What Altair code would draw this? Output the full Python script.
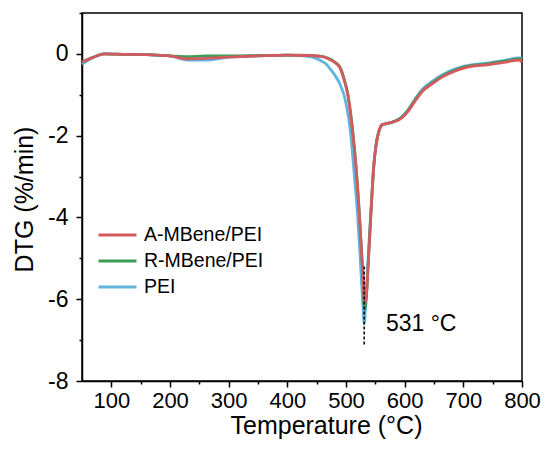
import altair as alt
import pandas as pd

# ---- data ----
temp_A = [50, 70, 88, 120, 160, 200, 230, 260, 300, 350, 400, 440, 460, 470, 480, 490, 497, 503, 508, 512, 517, 523, 528, 532,
          535, 538, 541, 544, 547, 551, 555, 562, 571, 582, 594, 606, 618, 630, 648, 666, 684, 702, 743, 773, 795, 800]
dtg_A = [-0.2, -0.08, 0.0, -0.01, -0.02, -0.05, -0.12, -0.11, -0.08, -0.05, -0.03, -0.04, -0.07, -0.12, -0.2, -0.35, -0.65, -1.0, -1.5, -2.0, -2.77, -4.0, -5.2, -6.1,
         -5.85, -5.1, -4.3, -3.5, -2.8, -2.25, -1.95, -1.73, -1.7, -1.66, -1.58, -1.4, -1.15, -0.92, -0.72, -0.55, -0.43, -0.34, -0.26, -0.2, -0.15, -0.2]

temp_R = [50, 70, 88, 120, 160, 200, 230, 260, 300, 350, 400, 440, 460, 470, 480, 490, 497, 503, 508, 512, 517, 523, 528, 532,
          535, 538, 541, 544, 547, 551, 555, 562, 571, 582, 594, 606, 618, 630, 648, 666, 684, 702, 743, 773, 795, 800]
dtg_R = [-0.2, -0.08, 0.0, -0.01, -0.02, -0.05, -0.07, -0.05, -0.05, -0.04, -0.03, -0.04, -0.06, -0.11, -0.19, -0.33, -0.62, -0.97, -1.45, -1.95, -2.72, -3.95, -5.2, -6.25,
         -5.9, -5.1, -4.3, -3.5, -2.8, -2.25, -1.95, -1.73, -1.7, -1.65, -1.56, -1.37, -1.12, -0.9, -0.7, -0.53, -0.41, -0.32, -0.24, -0.17, -0.12, -0.12]

temp_P = [50, 70, 88, 120, 160, 200, 230, 260, 300, 350, 400, 420, 442, 455, 466, 472, 480, 490, 499, 508, 513, 520, 525, 529, 531,
          534, 537, 540, 544, 547, 551, 555, 562, 571, 582, 594, 606, 618, 630, 648, 666, 684, 702, 743, 773, 795, 800]
dtg_P = [-0.25, -0.08, 0.0, -0.01, -0.02, -0.05, -0.15, -0.15, -0.08, -0.05, -0.03, -0.04, -0.08, -0.15, -0.25, -0.35, -0.5, -0.75, -1.14, -1.95, -2.77, -4.0, -5.2, -6.2, -6.6,
         -6.0, -5.2, -4.4, -3.5, -2.8, -2.25, -1.95, -1.73, -1.7, -1.65, -1.56, -1.37, -1.1, -0.87, -0.66, -0.5, -0.38, -0.3, -0.22, -0.15, -0.1, -0.1]

series_names = ["A-MBene/PEI", "R-MBene/PEI", "PEI"]
series_colors = ["#d35a5f", "#3e9c57", "#62b4e0"]

peak_T = [531]
peak_top = [-5.2]
peak_bottom = [-7.15]
note_T = [568]
note_v = [-6.6]
note_text = ["531 \u00b0C"]

x_major = list(range(100, 801, 100))
x_minor = list(range(150, 751, 100))
y_ticks = list(range(-8, 2))

rows = []
for name, T, V in [("A-MBene/PEI", temp_A, dtg_A), ("R-MBene/PEI", temp_R, dtg_R), ("PEI", temp_P, dtg_P)]:
    for t, v in zip(T, V):
        rows.append({"T": t, "DTG": v, "Sample": name})
df = pd.DataFrame(rows)

FONT = "Liberation Sans"
x_scale = alt.Scale(domain=[50, 800], nice=False, zero=False)

x_main = alt.X("T:Q", scale=x_scale,
               axis=alt.Axis(values=x_major, title="Temperature (\u00b0C)", orient="bottom",
                             labelOverlap=False, labelFlush=False, tickSize=6, labelFontSize=22,
                             labelPadding=3, titlePadding=2, titleX=244))
x_minor_enc = alt.X("T:Q", scale=x_scale,
                    axis=alt.Axis(values=x_minor, title=None, orient="bottom", labels=False,
                                  domain=False, tickSize=3))
x_none = alt.X("T:Q", scale=x_scale, axis=None)

y_enc = alt.Y("DTG:Q", scale=alt.Scale(domain=[-8, 1], nice=False, zero=False),
              axis=alt.Axis(values=y_ticks, title="DTG (%/min)",
                            labelExpr="datum.value % 2 === 0 ? '' + datum.value : ''",
                            labelOverlap=False, labelFlush=False,
                            tickSize={"condition": {"test": "datum.value % 2 === 0", "value": 6}, "value": 3},
                            labelPadding=8, titlePadding=10, titleY=186))
color_enc = alt.Color("Sample:N", scale=alt.Scale(domain=series_names, range=series_colors),
                      legend=alt.Legend(title=None, orient="none", legendX=15, legendY=211, padding=0,
                                        symbolType="M-1,0H3", symbolSize=361, symbolStrokeWidth=3,
                                        labelFontSize=19.5, labelFont=FONT, labelColor="black",
                                        labelOffset=25, rowPadding=5))

layers = []
for i, name in enumerate(["PEI", "R-MBene/PEI", "A-MBene/PEI"]):
    layers.append(
        alt.Chart(df[df["Sample"] == name]).mark_line(strokeWidth=2.8, interpolate="monotone").encode(
            x=x_main if i == 0 else x_none, y=y_enc, color=color_enc, order="T:Q")
    )

peak_df = pd.DataFrame({"T": peak_T, "top": peak_top, "bottom": peak_bottom})
peak = alt.Chart(peak_df).mark_rule(color="black", strokeWidth=1.5, strokeDash=[3, 2]).encode(
    x=x_none, y=alt.Y("top:Q"), y2="bottom:Q")

note_df = pd.DataFrame({"T": note_T, "v": note_v, "text": note_text})
note = alt.Chart(note_df).mark_text(align="left", baseline="middle", fontSize=23, font=FONT, color="black").encode(
    x=x_minor_enc, y=alt.Y("v:Q"), text="text:N")

chart = alt.layer(*layers, peak, note).resolve_axis(x="independent").properties(
    width=440, height=368,
    autosize=alt.AutoSizeParams(type="none"),
    padding={"left": 74, "top": 5, "right": 19, "bottom": 62},
).configure_view(stroke="black", strokeWidth=1.5).configure_axis(
    grid=False, domainColor="black", domainWidth=1.5, tickColor="black", tickWidth=1.5,
    labelFont=FONT, labelFontSize=23, labelColor="black",
    titleFont=FONT, titleFontSize=25, titleColor="black", titleFontWeight="normal"
)

chart.save("out.html", embed_options={"renderer": "svg", "actions": False})
